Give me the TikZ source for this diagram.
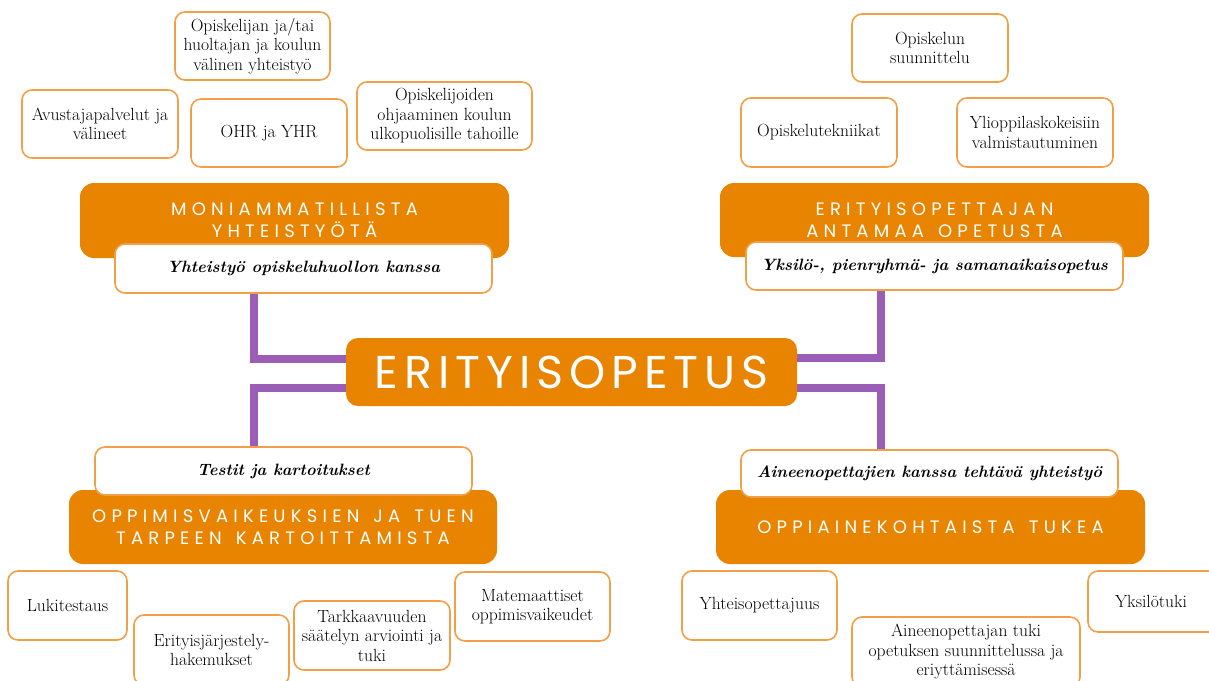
\documentclass[tikz,border=0pt]{standalone}
\usepackage{fontspec}
\newfontfamily\headfont[LetterSpace=29,WordSpace=1.4]{Poppins}
\newfontfamily\bigfont[LetterSpace=13]{Poppins}

\definecolor{headorange}{RGB}{232,132,0}
\definecolor{leafline}{RGB}{242,160,72}
\definecolor{linkpurple}{RGB}{155,94,182}

\tikzset{
  leaf/.style={draw=leafline, line width=1.6pt, fill=white, rounded corners=10pt,
    align=center, inner sep=3pt, minimum width=155pt, minimum height=68pt,
    font=\fontsize{17.6}{19.5}\selectfont},
  head/.style={fill=headorange, rounded corners=14pt, text=white, align=center,
    inner sep=0pt, minimum width=429pt, minimum height=74pt,
    font=\headfont\fontsize{18}{22}\selectfont},
  subhead/.style={draw=leafline, line width=1.6pt, fill=white, rounded corners=10pt,
    inner sep=0pt, minimum width=377pt, minimum height=48pt,
    font=\bfseries\itshape\fontsize{16.4}{19}\selectfont},
  link/.style={draw=linkpurple, line width=8pt, line join=miter},
}

\begin{document}
\begin{tikzpicture}[x=1pt, y=-1pt]
  \useasboundingbox (0,0) rectangle (1209,680);

  % centre
  \node[head, minimum width=451pt, minimum height=68pt, rounded corners=12pt,
    font=\bigfont\fontsize{46}{50}\selectfont] (erit) at (571.5,372) {ERITYISOPETUS};

  % top left branch
  \node[leaf] (yhteis) at (252.5,46) {Opiskelijan ja/tai\\huoltajan ja koulun\\välinen yhteistyö};
  \node[leaf, minimum width=156pt] (avust) at (100,124) {Avustajapalvelut ja\\välineet};
  \node[leaf, minimum width=156pt] (ohr) at (269,133) {OHR ja YHR};
  \node[leaf, minimum width=175pt] (ohjaus) at (444.5,116) {Opiskelijoiden\\ohjaaminen koulun\\ulkopuolisille tahoille};
  \node[head, minimum height=75pt] (moni) at (294.5,220.5) {MONIAMMATILLISTA\\YHTEISTYÖTÄ};
  \node[subhead, minimum height=49pt] (huolto) at (303.5,268.5) {Yhteistyö opiskeluhuollon kanssa};

  % top right branch
  \node[leaf, minimum width=156pt] (suunn) at (930,48) {Opiskelun\\suunnittelu};
  \node[leaf, minimum width=156pt, minimum height=69pt] (tekn) at (819,132.5) {Opiskelutekniikat};
  \node[leaf, minimum width=156pt, minimum height=69pt] (yo) at (1035,132.5) {Ylioppilaskokeisiin\\valmistautuminen};
  \node[head] (erope) at (934.5,220) {ERITYISOPETTAJAN\\ANTAMAA OPETUSTA};
  \node[subhead] (yksilo) at (934.5,266) {Yksilö-, pienryhmä- ja samanaikaisopetus};

  % bottom left branch
  \node[head, minimum width=428pt] (kartoit) at (283,527) {OPPIMISVAIKEUKSIEN JA TUEN\\TARPEEN KARTOITTAMISTA};
  \node[subhead] (testit) at (283.5,471) {Testit ja kartoitukset};
  \node[leaf, minimum width=119pt, minimum height=69pt] (luki) at (67.5,605.5) {Lukitestaus};
  \node[leaf, minimum height=70pt] (hakem) at (211.5,650) {Erityisjärjestely-\\hakemukset};
  \node[leaf, minimum width=156pt, minimum height=69pt] (tarkk) at (372,635.5) {Tarkkaavuuden\\säätelyn arviointi ja\\tuki};
  \node[leaf, minimum height=69pt] (matem) at (532.5,606.5) {Matemaattiset\\oppimisvaikeudet};

  % bottom right branch
  \node[head] (oppiaine) at (930.5,527) {OPPIAINEKOHTAISTA TUKEA};
  \node[subhead, minimum height=47pt] (aine) at (929.5,473.5) {Aineenopettajien kanssa tehtävä yhteistyö};
  \node[leaf, minimum height=69pt] (yhtope) at (759.5,605.5) {Yhteisopettajuus};
  \node[leaf, minimum width=228pt, minimum height=70pt] (ainetuki) at (966,652) {Aineenopettajan tuki\\opetuksen suunnittelussa ja\\eriyttämisessä};
  \node[leaf, minimum width=156pt, minimum height=61pt, text width=102pt, align=left,
    inner xsep=27pt] (yksituki) at (1166,601.5) {Yksilötuki};

  % connectors
  \coordinate (lu) at (253.5,359);
  \coordinate (ld) at (253.5,388);
  \coordinate (ru) at (881,358);
  \coordinate (rd) at (881,388);
  \draw[link] (lu |- huolto.south) -- (lu) -- (lu -| erit.west);
  \draw[link] (ld -| erit.west) -- (ld) -- (ld |- testit.north);
  \draw[link] (ru -| erit.east) -- (ru) -- (ru |- yksilo.south);
  \draw[link] (rd -| erit.east) -- (rd) -- (rd |- aine.north);
\end{tikzpicture}
\end{document}
